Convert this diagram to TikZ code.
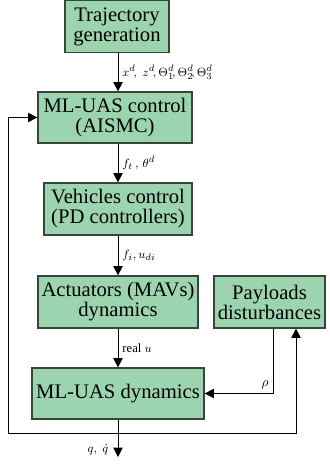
\documentclass[tikz,border=0pt]{standalone}
\usepackage{fontspec}
\setmainfont{Liberation Serif}
\usetikzlibrary{arrows.meta}
\definecolor{boxgreen}{RGB}{155,212,174}
\definecolor{boxline}{RGB}{55,70,58}

\begin{document}
\begin{tikzpicture}[x=0.75pt,y=-0.75pt,
  block/.style={draw=boxline,fill=boxgreen,line width=0.9pt,align=center,
    inner sep=0pt,font=\fontsize{15.5}{15}\selectfont},
  sig/.style={-{Triangle[length=7pt,width=7pt]},line width=0.7pt},
  lbl/.style={font=\fontsize{9.5}{11}\selectfont,inner sep=3pt}]
\useasboundingbox (0,0) rectangle (329,466);

% blocks
\node[block,minimum width=78pt,minimum height=39pt] (traj) at (117,26.5) {Trajectory\\generation};
\node[block,minimum width=115.5pt,minimum height=38.25pt] (ctrl) at (115,117.5) {ML-UAS control\\(AISMC)};
\node[block,minimum width=111pt,minimum height=39pt] (veh) at (118,209) {Vehicles control\\(PD controllers)};
\node[block,minimum width=120pt,minimum height=39pt] (act) at (118,302) {Actuators (MAVs)\\dynamics};
\node[block,minimum width=83.25pt,minimum height=39pt] (pay) at (269.5,302) {Payloads\\disturbances};
\node[block,minimum width=129pt,minimum height=38.25pt] (dyn) at (118,393.5) {ML-UAS dynamics};

% points of the loops
\coordinate (fb) at (118,433);
\coordinate (fbl) at (8,433);
\coordinate (fbr) at (296,433);
\coordinate (out) at (118,457);
\coordinate (rh) at (273,393.5);

% forward path
\draw[sig] (traj.south -| veh.north) -- node[lbl,right]{$x^d\!,\; z^d\!,\Theta_1^d\!,\Theta_2^d\!,\Theta_3^d$} (ctrl.north -| veh.north);
\draw[sig] (ctrl.south -| veh.north) -- node[lbl,right]{$f_t\,,\,\theta^d$} (veh.north);
\draw[sig] (veh.south) -- node[lbl,right]{$f_i,u_{di}$} (act.north);
\draw[sig] (act.south) -- node[lbl,right]{real $u$} (dyn.north);
\draw[sig] (dyn.south) -- node[lbl,left,pos=0.8,xshift=-4pt]{$q,\ \dot q$} (out);

% feedback and disturbance
\draw[sig] (fb) -- (fbl) |- (ctrl.west);
\draw[sig] (fb) -- (fbr) -- (fbr |- pay.south);
\draw[sig] (rh |- pay.south) -- (rh) node[lbl,above left,font=\normalsize]{$\rho$} -- (dyn.east);
\end{tikzpicture}
\end{document}
